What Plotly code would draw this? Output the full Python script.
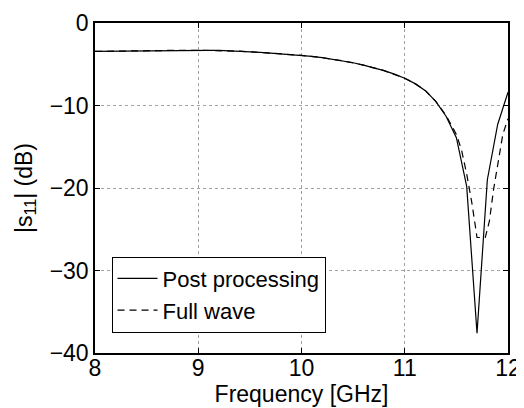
import plotly.graph_objects as go

# Post processing (sampled every 0.1 GHz)
freq_pp = [8.0, 8.1, 8.2, 8.3, 8.4, 8.5, 8.6, 8.7, 8.8, 8.9,
           9.0, 9.1, 9.2, 9.3, 9.4, 9.5, 9.6, 9.7, 9.8, 9.9,
           10.0, 10.1, 10.2, 10.3, 10.4, 10.5, 10.6, 10.7, 10.8, 10.9,
           11.0, 11.1, 11.2, 11.3, 11.4, 11.5, 11.6, 11.7, 11.8, 11.9, 12.0]
s11_pp = [-3.45, -3.43, -3.40, -3.38, -3.36, -3.35, -3.33, -3.32, -3.31, -3.30,
          -3.30, -3.31, -3.33, -3.37, -3.42, -3.48, -3.56, -3.64, -3.73, -3.82,
          -3.92, -4.05, -4.20, -4.38, -4.58, -4.82, -5.10, -5.42, -5.78, -6.20,
          -6.70, -7.35, -8.20, -9.50, -11.30, -13.90, -19.80, -37.60, -19.00, -12.30, -8.40]

# Full wave
freq_fw = [8.0, 8.2, 8.4, 8.6, 8.8, 9.0, 9.2, 9.4, 9.6, 9.8,
           10.0, 10.2, 10.4, 10.6, 10.8, 11.0, 11.1, 11.2, 11.3, 11.4,
           11.45, 11.5, 11.55, 11.6, 11.65, 11.7, 11.78, 11.82, 11.86, 11.9, 11.95, 12.0]
s11_fw = [-3.45, -3.40, -3.36, -3.33, -3.31, -3.30, -3.33, -3.42, -3.56, -3.73,
          -3.92, -4.20, -4.58, -5.10, -5.78, -6.70, -7.35, -8.20, -9.50, -11.20,
          -12.30, -13.50, -15.40, -18.30, -21.80, -26.00, -26.00, -24.00, -20.20, -17.00, -13.50, -11.60]

x_ticks = [8, 9, 10, 11, 12]
y_ticks = [-40, -30, -20, -10, 0]
y_tick_labels = ["\u221240", "\u221230", "\u221220", "\u221210", "0"]

fig = go.Figure()
fig.add_trace(go.Scatter(x=freq_pp, y=s11_pp, mode="lines", name="Post processing",
                         line=dict(color="black", width=1.2)))
fig.add_trace(go.Scatter(x=freq_fw, y=s11_fw, mode="lines", name="Full wave",
                         line=dict(color="black", width=1.2, dash="7px,5px")))

font = "Liberation Sans, Arial, Helvetica, sans-serif"
FS = 23
axis_common = dict(showline=True, linecolor="black", linewidth=1.5, mirror="ticks",
                   ticks="inside", ticklen=5, tickcolor="black", tickwidth=1,
                   showgrid=True, gridcolor="#a0a0a0", gridwidth=1, griddash="dot",
                   zeroline=False, automargin=False,
                   tickfont=dict(size=FS, color="black", family=font))

# the page body adds an 8px offset, so the figure is 8px smaller on each axis
fig.update_layout(
    width=516, height=400,
    margin=dict(l=87, r=16, t=15, b=55),
    paper_bgcolor="white", plot_bgcolor="white",
    font=dict(family=font, size=FS, color="black"),
    xaxis=dict(range=[8, 12], tickvals=x_ticks, ticktext=[str(v) for v in x_ticks],
               ticklabelstandoff=-6,
               title=dict(text="Frequency [GHz]", standoff=4, font=dict(size=FS)),
               **axis_common),
    yaxis=dict(range=[-40, 0], tickvals=y_ticks, ticktext=y_tick_labels,
               title=dict(text="|s<sub>11</sub>| (dB)", standoff=11, font=dict(size=FS)),
               **axis_common),
    showlegend=True,
    legend=dict(x=0.04, y=0.292, xanchor="left", yanchor="top",
                bgcolor="white", bordercolor="black", borderwidth=1,
                font=dict(size=22, color="black", family=font),
                tracegroupgap=0, itemwidth=40),
)

fig.write_html("out.html")
